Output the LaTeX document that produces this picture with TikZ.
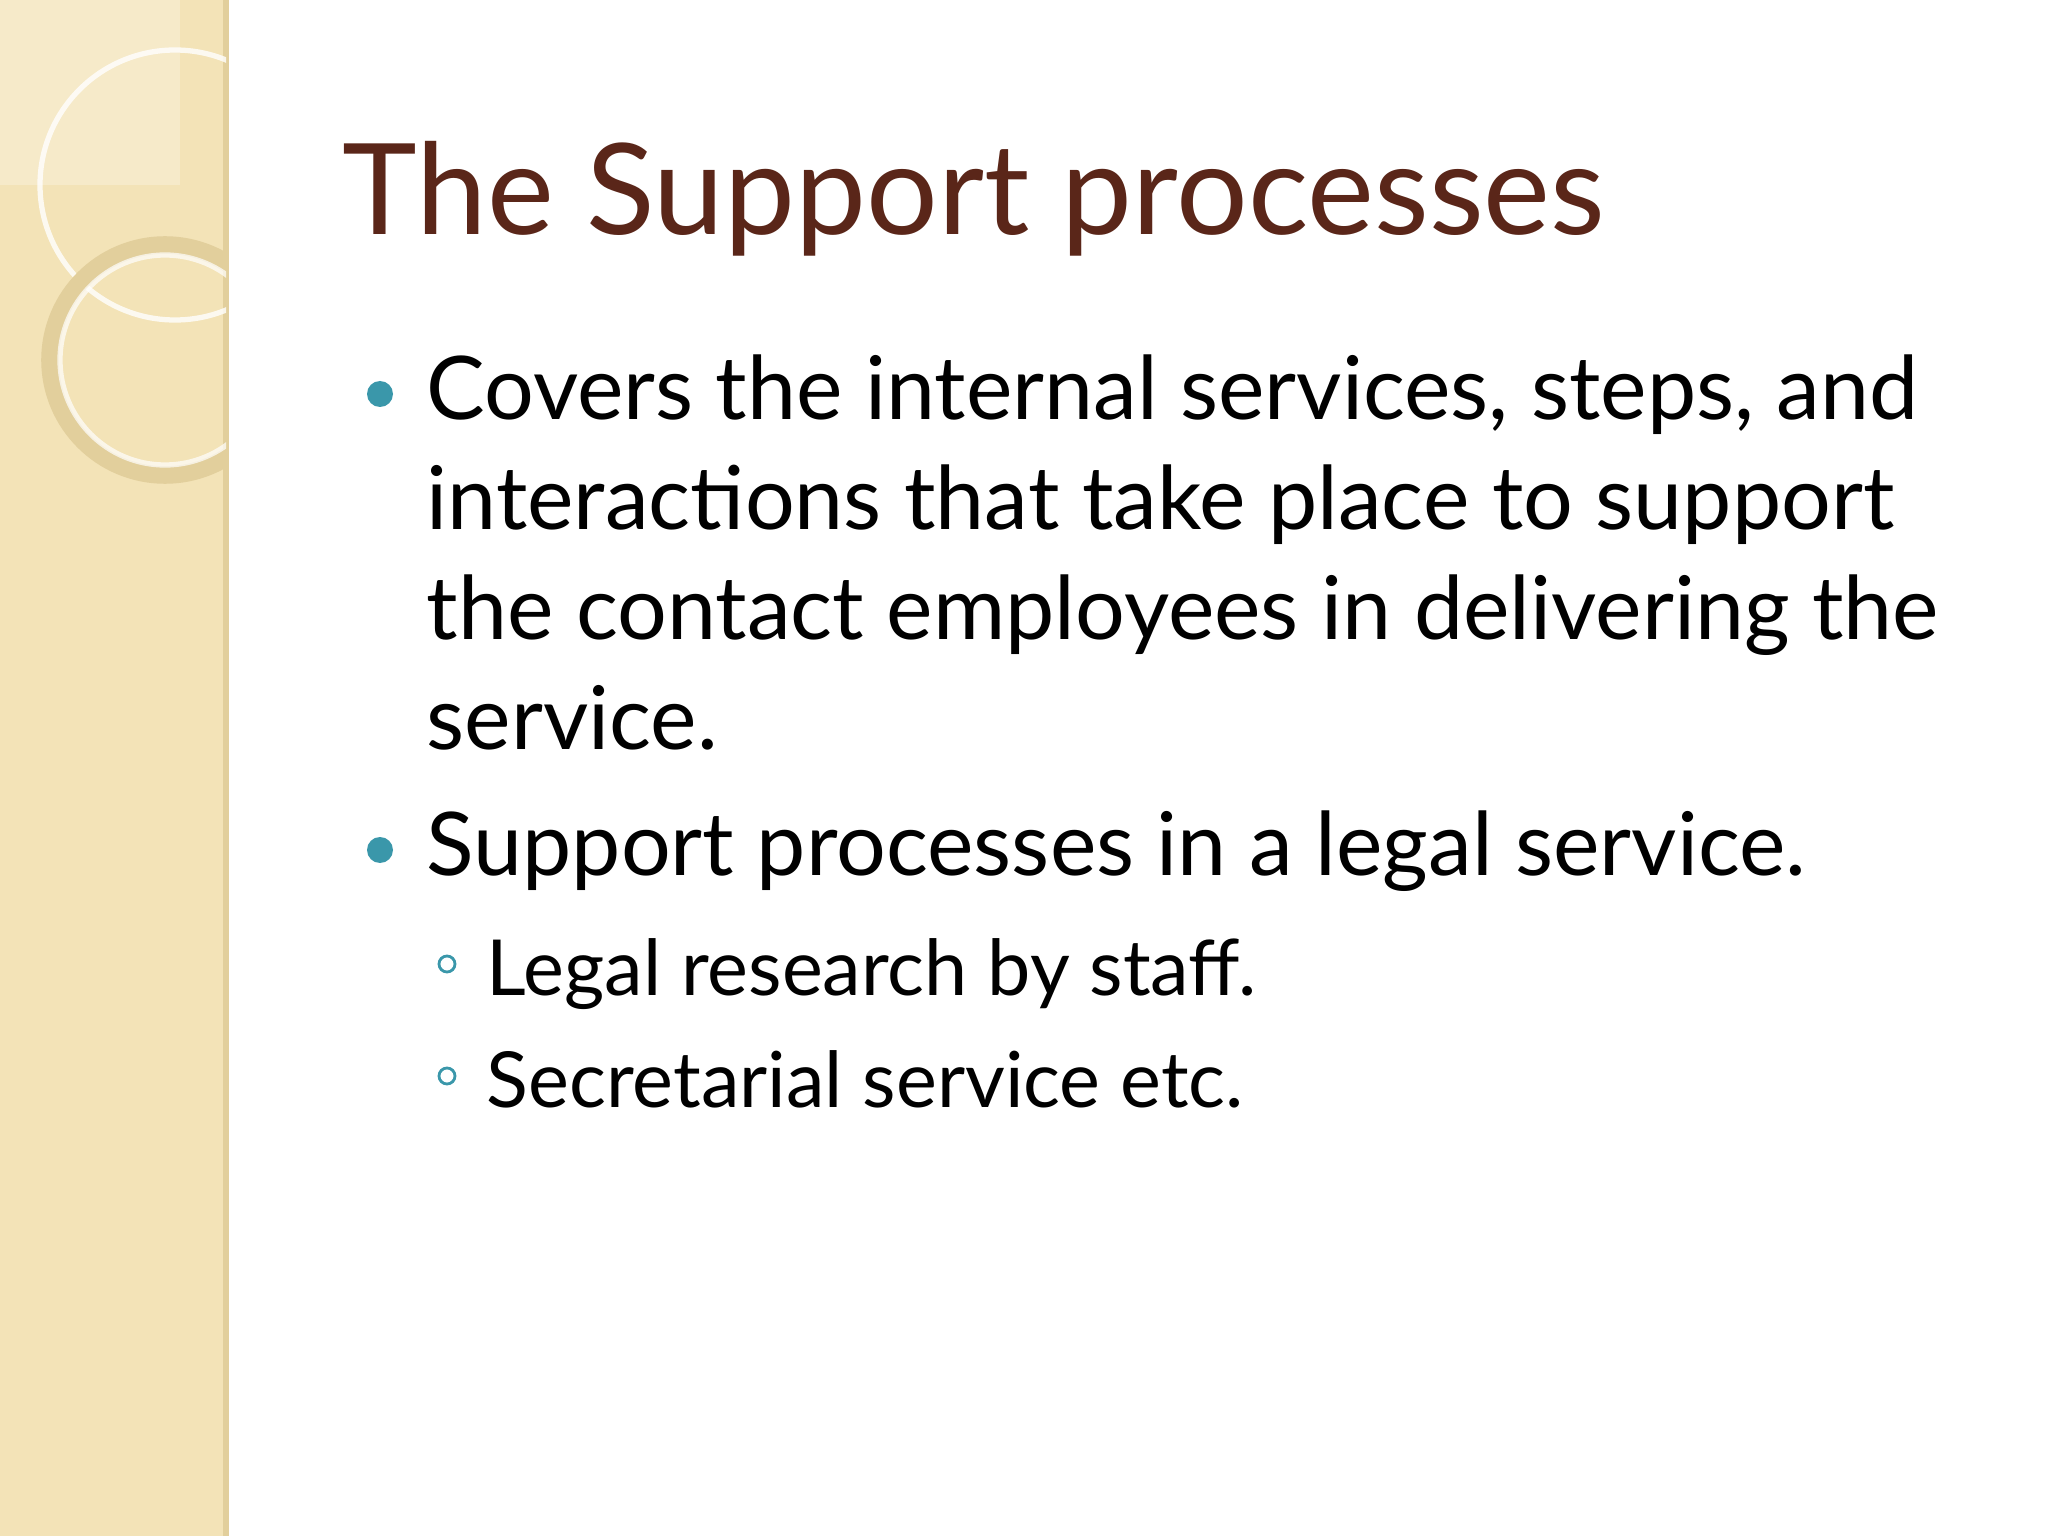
\documentclass[tikz,border=0pt]{standalone}
\usepackage{fontspec}
\setmainfont{Lato}
\definecolor{strip}{HTML}{F3E3B7}
\definecolor{stripedge}{HTML}{E2CF9C}
\definecolor{titlec}{HTML}{5A2619}
\definecolor{teal}{HTML}{3A97AA}
\tikzset{
  body/.style={anchor=base west, inner sep=0pt, font=\fontsize{25}{30}\selectfont},
  sub/.style={anchor=base west, inner sep=0pt, font=\fontsize{22}{26}\selectfont},
  dotb/.style={circle, fill=teal, inner sep=0pt, minimum size=0.26cm},
  ringb/.style={circle, draw=teal, line width=0.8pt, inner sep=0pt, minimum size=0.16cm}
}
\begin{document}
\begin{tikzpicture}[x=1cm,y=1cm]
\fill[white] (0,0) rectangle (20.48,-15.36);
\useasboundingbox (0,0) rectangle (20.48,-15.36);
\fill[strip] (0,0) rectangle (2.26,-15.36);
\draw[stripedge, line width=1.5pt] (2.26,0) -- (2.26,-15.36);
\begin{scope}
\clip (0,0) rectangle (2.26,-15.36);
\fill[white, opacity=0.25] (0,0) rectangle (1.8,-1.85);
\draw[white, opacity=0.8, line width=1.5pt] (1.75,-1.85) circle (1.35);
\draw[stripedge, line width=5pt] (1.65,-3.6) circle (1.15);
\draw[white, opacity=0.7, line width=1.5pt] (1.65,-3.6) circle (1.05);
\end{scope}
\node[anchor=base west, inner sep=0pt, text=titlec, font=\fontsize{36}{40}\selectfont] (title) at (3.42,-2.35) {The Support processes};
\node[dotb] (d1) at (3.80,-3.94) {};
\node[body] (l1) at (4.26,-4.20) {Covers the internal services, steps, and};
\node[body] (l2) at (4.26,-5.30) {interactions that take place to support};
\node[body] (l3) at (4.26,-6.40) {the contact employees in delivering the};
\node[body] (l4) at (4.26,-7.50) {service.};
\node[dotb] (d2) at (3.80,-8.50) {};
\node[body] (l5) at (4.26,-8.75) {Support processes in a legal service.};
\node[ringb] (r1) at (4.47,-9.64) {};
\node[sub] (s1) at (4.86,-9.95) {Legal research by staff.};
\node[ringb] (r2) at (4.47,-10.76) {};
\node[sub] (s2) at (4.86,-11.07) {Secretarial service etc.};
\end{tikzpicture}
\end{document}
